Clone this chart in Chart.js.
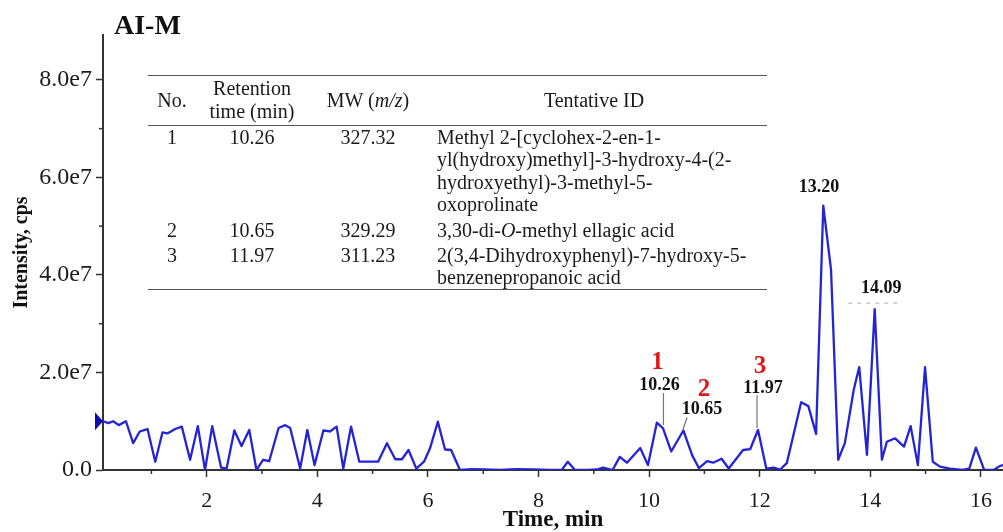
<!DOCTYPE html>
<html>
<head>
<meta charset="utf-8">
<script src="https://cdn.jsdelivr.net/npm/chart.js@4.4.1/dist/chart.umd.min.js"></script>
<style>
  html, body { margin: 0; padding: 0; background: #fff; }
  #wrap { position: relative; width: 1003px; height: 532px; overflow: hidden; }
  #chart { position: absolute; left: 0; top: 0; }
  #peakTable { position: absolute; left: 0; top: 0; width: 1003px; height: 532px;
    font-family: "Liberation Serif", "Times New Roman", serif; font-size: 20px; color: #1a1a1a; pointer-events: none; }
  .cell { position: absolute; white-space: nowrap; line-height: 22px; height: 22px; }
  .mid { transform: translateX(-50%); }
  .rule { position: absolute; left: 148px; width: 619px; height: 0; border-top: 1.6px solid #555; }
</style>
</head>
<body>
<div id="wrap">
  <canvas id="chart" width="1003" height="532"></canvas>
  <div id="peakTable"></div>
</div>
<script>
// chromatogram trace (time in min, intensity in units of 1e7 cps)
const times = [
  0.13, 0.22, 0.31, 0.41, 0.54, 0.67, 0.79, 0.93, 1.07, 1.20, 1.29, 1.43, 1.55, 1.70, 1.84, 1.97,
  2.10, 2.26, 2.36, 2.50, 2.63, 2.77, 2.90, 3.02, 3.13, 3.30, 3.42, 3.51, 3.69, 3.82, 3.95, 4.11,
  4.23, 4.35, 4.47, 4.61, 4.76, 5.10, 5.26, 5.41, 5.53, 5.65, 5.79, 5.93, 6.04, 6.18, 6.31, 6.42,
  6.58, 6.80, 7.00, 7.30, 7.60, 7.90, 8.20, 8.42, 8.53, 8.66, 8.90, 9.05, 9.17, 9.34, 9.47, 9.60,
  9.84, 9.98, 10.14, 10.25, 10.40, 10.62, 10.78, 10.90, 11.05, 11.16, 11.31, 11.44, 11.70, 11.83,
  11.97, 12.12, 12.25, 12.37, 12.49, 12.75, 12.88, 13.02, 13.15, 13.29, 13.42, 13.54, 13.70, 13.80,
  13.94, 14.08, 14.21, 14.30, 14.45, 14.61, 14.73, 14.86, 14.99, 15.13, 15.26, 15.44, 15.66, 15.79,
  15.91, 16.06, 16.23, 16.34, 16.40
];
const intensity = [
  1.00, 0.96, 1.00, 0.92, 1.00, 0.55, 0.79, 0.84, 0.17, 0.77, 0.75, 0.84, 0.89, 0.21, 0.90, 0.00,
  0.90, 0.05, 0.03, 0.81, 0.49, 0.82, 0.00, 0.21, 0.18, 0.86, 0.92, 0.86, 0.03, 0.82, 0.10, 0.81,
  0.79, 0.89, 0.03, 0.89, 0.17, 0.17, 0.55, 0.22, 0.22, 0.41, 0.03, 0.17, 0.45, 0.99, 0.42, 0.41,
  0.00, 0.02, 0.01, 0.00, 0.02, 0.01, 0.00, 0.00, 0.17, 0.00, 0.00, 0.01, 0.05, 0.00, 0.27, 0.15,
  0.45, 0.10, 0.97, 0.86, 0.38, 0.81, 0.30, 0.04, 0.18, 0.15, 0.23, 0.03, 0.41, 0.43,
  0.82, 0.03, 0.05, 0.01, 0.14, 1.39, 1.31, 0.74, 5.42, 4.11, 0.21, 0.55, 1.64, 2.11,
  0.31, 3.30, 0.21, 0.58, 0.65, 0.48, 0.90, 0.10, 2.11, 0.17, 0.07, 0.03, 0.00, 0.03,
  0.46, 0.00, 0.00, 0.08, 0.10
];

// labelled peaks
const peakTimes = [10.26, 10.65, 11.97, 13.20, 14.09];
const peakTexts = ['10.26', '10.65', '11.97', '13.20', '14.09'];
const peakNumbers = ['1', '2', '3', '', ''];

// inset table
const tableHeader = ['No.', 'Retention|time (min)', 'MW (<i>m/z</i>)', 'Tentative ID'];
const tableNo = ['1', '2', '3'];
const tableRt = ['10.26', '10.65', '11.97'];
const tableMw = ['327.32', '329.29', '311.23'];
const tableId = [
  ['Methyl 2-[cyclohex-2-en-1-', 'yl(hydroxy)methyl]-3-hydroxy-4-(2-', 'hydroxyethyl)-3-methyl-5-', 'oxoprolinate'],
  ['3,30-di-<i>O</i>-methyl ellagic acid'],
  ['2(3,4-Dihydroxyphenyl)-7-hydroxy-5-', 'benzenepropanoic acid']
];

const SERIF = '"Liberation Serif", "Times New Roman", serif';
const AXIS = '#333';

// build the table overlay
function buildTable() {
    const box = document.getElementById('peakTable');
    const colX = [172, 252, 368, 594];
    let html = '';
    [75, 125, 289].forEach(y => { html += `<div class="rule" style="top:${y}px"></div>`; });
    tableHeader.forEach((h, i) => {
        const lines = h.split('|');
        const y0 = lines.length === 1 ? 100 : 88;
        lines.forEach((ln, j) => {
            html += `<div class="cell mid" style="left:${colX[i]}px;top:${y0 - 11 + j * 23}px">${ln}</div>`;
        });
    });
    const rowY = [137, 230, 255];
    tableNo.forEach((no, r) => {
        const y = rowY[r] - 11;
        html += `<div class="cell mid" style="left:${colX[0]}px;top:${y}px">${no}</div>`;
        html += `<div class="cell mid" style="left:${colX[1]}px;top:${y}px">${tableRt[r]}</div>`;
        html += `<div class="cell mid" style="left:${colX[2]}px;top:${y}px">${tableMw[r]}</div>`;
        tableId[r].forEach((ln, j) => {
            html += `<div class="cell" style="left:437px;top:${y + j * 22.4}px">${ln}</div>`;
        });
    });
    box.innerHTML = html;
}
buildTable();

function nearestIndex(t) {
    let best = 0;
    times.forEach((v, i) => { if (Math.abs(v - t) < Math.abs(times[best] - t)) best = i; });
    return best;
}

const annotations = {
    id: 'annotations',
    afterDraw(chart) {
        const ctx = chart.ctx;
        const xs = chart.scales.x, ys = chart.scales.y;
        const area = chart.chartArea;
        ctx.save();

        // minor ticks
        ctx.strokeStyle = AXIS;
        ctx.lineWidth = 1.5;
        xs.ticks.forEach(t => {
            if (t.value % 2 !== 0) {
                const p = xs.getPixelForValue(t.value);
                ctx.beginPath(); ctx.moveTo(p, area.bottom); ctx.lineTo(p, area.bottom + 4); ctx.stroke();
            }
        });
        ys.ticks.forEach(t => {
            if (t.value % 2 !== 0) {
                const p = ys.getPixelForValue(t.value);
                ctx.beginPath(); ctx.moveTo(area.left - 4, p); ctx.lineTo(area.left, p); ctx.stroke();
            }
        });

        // start marker
        const y0 = ys.getPixelForValue(intensity[0]);
        ctx.fillStyle = '#0c0cb0';
        ctx.beginPath();
        ctx.moveTo(area.left - 8, y0 - 9);
        ctx.lineTo(area.left - 8, y0 + 9);
        ctx.lineTo(area.left, y0);
        ctx.closePath();
        ctx.fill();

        // chart title
        ctx.fillStyle = '#111';
        ctx.font = 'bold 28px ' + SERIF;
        ctx.textAlign = 'left';
        ctx.textBaseline = 'alphabetic';
        ctx.fillText('AI-M', 114, 34);

        // peak labels
        const txt = (s, x, y, font, color) => {
            ctx.font = font; ctx.fillStyle = color;
            ctx.textAlign = 'center'; ctx.textBaseline = 'middle';
            ctx.fillText(s, x, y);
        };
        const line = (x1, y1, x2, y2, color, dash) => {
            ctx.strokeStyle = color; ctx.lineWidth = 1.2;
            ctx.setLineDash(dash || []);
            ctx.beginPath(); ctx.moveTo(x1, y1); ctx.lineTo(x2, y2); ctx.stroke();
            ctx.setLineDash([]);
        };
        const labelFont = 'bold 18px ' + SERIF;
        const numFont = 'bold 25px ' + SERIF;
        const offsets = [
            {dx: -4, dy: -43, nx: -6, ny: -66, l: [0, -35, 0, -3]},
            {dx: 17, dy: -21, nx: 19, ny: -41, l: [2, -13, -2, -1]},
            {dx: 5, dy: -42, nx: 2, ny: -63, l: [-1, -35, -1, -2]},
            {dx: -7, dy: -18},
            {dx: 6, dy: -21, dash: [-27, -6, 22]}
        ];
        peakTimes.forEach((t, i) => {
            const px = xs.getPixelForValue(t);
            const py = ys.getPixelForValue(intensity[nearestIndex(t)]);
            const o = offsets[i];
            txt(peakTexts[i], px + o.dx, py + o.dy, labelFont, '#111');
            if (peakNumbers[i]) txt(peakNumbers[i], px + o.nx, py + o.ny, numFont, '#e01818');
            if (o.l) line(px + o.l[0], py + o.l[1], px + o.l[2], py + o.l[3], '#777');
            if (o.dash) line(px + o.dash[0], py + o.dash[1], px + o.dash[2], py + o.dash[1], '#bbb', [4, 5]);
        });
        ctx.restore();
    }
};

new Chart(document.getElementById('chart'), {
    type: 'line',
    data: {
        datasets: [{
            data: times.map((t, i) => ({x: t, y: intensity[i]})),
            borderColor: '#2424d6',
            borderWidth: 2.3,
            borderJoinStyle: 'round',
            borderCapStyle: 'round',
            pointRadius: 0,
            tension: 0,
            fill: false
        }]
    },
    options: {
        responsive: false,
        animation: false,
        layout: {padding: {top: 35, left: 0, right: 0, bottom: 0}, autoPadding: false},
        plugins: {legend: {display: false}, tooltip: {enabled: false}},
        scales: {
            x: {
                type: 'linear',
                min: 0.125,
                max: 16.4,
                afterFit: s => { s.height = 62; },
                border: {display: true, color: AXIS, width: 2},
                grid: {
                    drawOnChartArea: false,
                    tickLength: 7,
                    tickWidth: 1.5,
                    tickColor: c => (c.tick && c.tick.value % 2 === 0) ? AXIS : 'rgba(0,0,0,0)'
                },
                ticks: {
                    stepSize: 1,
                    includeBounds: false,
                    maxRotation: 0,
                    autoSkip: false,
                    padding: 11,
                    color: '#1a1a1a',
                    font: {family: SERIF, size: 22},
                    callback: v => v % 2 === 0 ? String(v) : ''
                },
                title: {
                    display: true,
                    text: 'Time, min',
                    color: '#111',
                    font: {family: SERIF, size: 23, weight: 'bold', lineHeight: 1},
                    padding: {top: 0, bottom: 0}
                }
            },
            y: {
                type: 'linear',
                min: 0,
                max: 8.92,
                afterFit: s => { s.width = 103; },
                border: {display: true, color: AXIS, width: 2},
                grid: {
                    drawOnChartArea: false,
                    tickLength: 7,
                    tickWidth: 1.5,
                    tickColor: c => (c.tick && c.tick.value % 2 === 0) ? AXIS : 'rgba(0,0,0,0)'
                },
                ticks: {
                    stepSize: 1,
                    includeBounds: false,
                    autoSkip: false,
                    padding: 4,
                    color: '#1a1a1a',
                    font: {family: SERIF, size: 24},
                    callback: v => v % 2 !== 0 ? '' : (v === 0 ? '0.0' : v.toFixed(1) + 'e7')
                },
                title: {
                    display: true,
                    text: 'Intensity, cps',
                    color: '#111',
                    font: {family: SERIF, size: 20, weight: 'bold'},
                    padding: {top: 10, bottom: 0}
                }
            }
        }
    },
    plugins: [annotations]
});
</script>
</body>
</html>
